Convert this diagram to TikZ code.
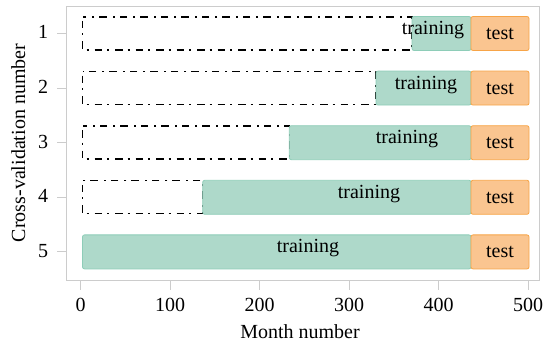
\documentclass[tikz,border=0pt]{standalone}
\usepackage{fontspec}
\setmainfont{Liberation Serif}
\definecolor{trainfill}{HTML}{AED9CA}
\definecolor{traindraw}{HTML}{8ECDB8}
\definecolor{testfill}{HTML}{FAC590}
\definecolor{testdraw}{HTML}{F7A447}
\definecolor{axisgrey}{HTML}{CCCCCC}
\tikzset{
  frame/.style={draw=axisgrey, line width=0.9pt},
  tickline/.style={draw=axisgrey, line width=0.9pt},
  emptybox/.style={draw=black, line width=1.4pt, dash pattern=on 7.5pt off 5pt on 2pt off 6pt, dash phase=-4pt},
  trainbar/.style={fill=trainfill, draw=traindraw, line width=0.8pt, rounded corners=2pt},
  testbar/.style={fill=testfill, draw=testdraw, line width=0.8pt, rounded corners=2pt},
  lbl/.style={font=\fontsize{20}{24}\selectfont, inner sep=0pt, anchor=base},
}
\begin{document}
\begin{tikzpicture}[x=1pt,y=-1pt]
\useasboundingbox (0,0) rectangle (550,345);
% frame
\draw[frame] (66.7,6) rectangle (539,280);
% y ticks and labels
\foreach \k/\yc in {1/33.5,2/88.1,3/142.7,4/197.3,5/251.9}{
  \draw[tickline] (57,\yc) -- (66.7,\yc);
  \node[lbl] (yt\k) at (43,\yc+5.5) {\k};
}
% x ticks and labels
\foreach \m in {0,100,200,300,400,500}{
  \pgfmathsetmacro{\px}{80.7+0.895*\m}
  \draw[tickline] (\px,280) -- (\px,290);
  \node[lbl] (xt\m) at (\px,311.5) {\m};
}
% bars
\foreach \k/\yc/\ts/\tx in {1/33.5/412/433,2/88.1/376/426,3/142.7/289.3/407,4/197.3/202.7/369}{
  \draw[emptybox] (82.5,\yc-16.5) rectangle (\ts,\yc+16.5);
  \draw[trainbar] (\ts,\yc-17) rectangle (471,\yc+17);
  \draw[testbar] (471,\yc-17) rectangle (529,\yc+17);
  \node[lbl] (tr\k) at (\tx,\yc+1) {training};
  \node[lbl] (te\k) at (500,\yc+6) {test};
}
\draw[trainbar] (82.5,251.9-17) rectangle (471,251.9+17);
\draw[testbar] (471,251.9-17) rectangle (529,251.9+17);
\node[lbl] (tr5) at (308,252.9) {training};
\node[lbl] (te5) at (500,257.9) {test};
% axis labels
\node[lbl] (xlab) at (300,338) {Month number};
\node[lbl, rotate=90] (ylab) at (25,143) {Cross-validation number};
\end{tikzpicture}
\end{document}
